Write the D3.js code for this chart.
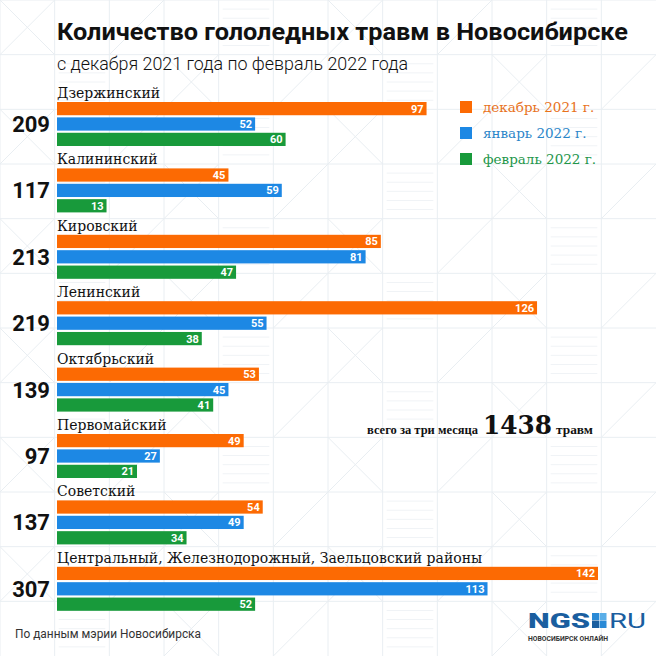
<!DOCTYPE html>
<html><head><meta charset="utf-8">
<script src="https://cdn.jsdelivr.net/npm/d3@7"></script>
<style>body{margin:0;background:#fff}svg{display:block}</style>
</head><body>
<script>
const districts = ["Дзержинский","Калининский","Кировский","Ленинский","Октябрьский","Первомайский","Советский","Центральный, Железнодорожный, Заельцовский районы"];
const months = ["декабрь 2021 г.","январь 2022 г.","февраль 2022 г."];
const december = [97,45,85,126,53,49,54,142];
const january = [52,59,81,55,45,27,49,113];
const february = [60,13,47,38,41,21,34,52];
const colors = ["#fc6a03","#1d88e4","#189a3b"];
const legendColors = ["#e8721c","#2b86c9","#23964a"];

const W=656,H=656;
const svg=d3.select("body").append("svg").attr("width",W).attr("height",H);

// background tile pattern
const bg=svg.append("g").attr("stroke","#e9eef2").attr("stroke-width",1).attr("fill","none");
const tile=W/12;
const tiles=d3.range(12);
tiles.forEach(i=>{
  bg.append("line").attr("x1",i*tile).attr("x2",i*tile).attr("y1",0).attr("y2",H);
  bg.append("line").attr("y1",i*tile).attr("y2",i*tile).attr("x1",0).attr("x2",W);
});
tiles.forEach(i=>tiles.forEach(j=>{
  const k=(i*7+j*3)%6, x=i*tile, y=j*tile;
  if(k===0){bg.append("line").attr("x1",x).attr("y1",y).attr("x2",x+tile).attr("y2",y+tile);
            bg.append("line").attr("x1",x+tile).attr("y1",y).attr("x2",x).attr("y2",y+tile);}
  else if(k===2){bg.append("line").attr("x1",x).attr("y1",y+tile).attr("x2",x+tile).attr("y2",y);}
  else if(k===4){d3.range(1,6).forEach(m=>bg.append("line").attr("x1",x+4).attr("x2",x+tile-4).attr("y1",y+m*tile/6).attr("y2",y+m*tile/6).attr("stroke","#f0f3f6"));}
}));

// title
svg.append("text").attr("x",57).attr("y",40).attr("font-family","Roboto").attr("font-weight",700)
  .attr("font-size",24.5).attr("fill","#111").attr("textLength",571).attr("lengthAdjust","spacingAndGlyphs")
  .text("Количество гололедных травм в Новосибирске");
svg.append("text").attr("x",57).attr("y",70).attr("font-family","Roboto").attr("font-weight",300)
  .attr("font-size",18.5).attr("fill","#111").attr("textLength",351).attr("lengthAdjust","spacingAndGlyphs")
  .text("с декабря 2021 года по февраль 2022 года");

const series=[december,january,february];
const y0=d3.scaleBand().domain(districts).range([102,102+8*66.4]).padding(0);
const y1=d3.scaleBand().domain(months).range([0,44]).paddingInner(0.14);
const x=d3.scaleLinear().domain([0,142]).range([57,598]);

const g=svg.append("g").selectAll("g").data(districts).join("g")
  .attr("transform",d=>`translate(0,${y0(d)})`);

g.append("text").attr("x",57).attr("y",-4).attr("font-family","DejaVu Serif").attr("font-size",14)
  .attr("fill","#111").text(d=>d);

g.append("text").attr("x",50).attr("y",y1(months[1])+y1.bandwidth()/2+8).attr("text-anchor","end")
  .attr("font-family","Roboto").attr("font-weight",700).attr("font-size",22).attr("fill","#111")
  .text((d,i)=>d3.sum(series,s=>s[i]));

months.forEach((m,mi)=>{
  g.append("rect").attr("x",x(0)).attr("y",y1(m)).attr("height",y1.bandwidth())
    .attr("width",(d,i)=>x(series[mi][i])-x(0)).attr("fill",colors[mi]);
  g.append("text").attr("x",(d,i)=>x(series[mi][i])-3).attr("y",y1(m)+y1.bandwidth()/2+4)
    .attr("text-anchor","end").attr("font-family","Roboto").attr("font-weight",700).attr("font-size",11)
    .attr("fill","#fff").text((d,i)=>series[mi][i]);
});

// legend
const lg=svg.append("g").attr("transform","translate(460,101)");
months.forEach((m,i)=>{
  lg.append("rect").attr("x",0).attr("y",i*26).attr("width",12).attr("height",12).attr("fill",colors[i]);
  lg.append("text").attr("x",23).attr("y",i*26+11).attr("font-family","DejaVu Serif").attr("font-size",13.5)
    .attr("fill",legendColors[i]).text(m);
});

// total
const total=d3.sum(series,s=>d3.sum(s));
function T(xp,yp,fam,size,len,txt){svg.append("text").attr("x",xp).attr("y",yp).attr("font-family",fam)
  .attr("font-weight",700).attr("fill","#111").attr("font-size",size).attr("textLength",len)
  .attr("lengthAdjust","spacingAndGlyphs").text(txt);}
T(367,434,"Liberation Serif",12,111,"всего за три месяца");
T(483,434,"DejaVu Serif",26,69,total);
T(556,434,"Liberation Serif",12,37,"травм");

// footer
svg.append("text").attr("x",15).attr("y",638).attr("font-family","Roboto").attr("font-size",12.5)
  .attr("fill","#333").attr("textLength",186).attr("lengthAdjust","spacingAndGlyphs").text("По данным мэрии Новосибирска");

// logo
const lo=svg.append("g").attr("transform","translate(528,628)");
lo.append("text").attr("x",0).attr("y",0).attr("font-family","Roboto").attr("font-weight",900).attr("font-size",21)
  .attr("fill","#1a5e9f").attr("textLength",62).attr("lengthAdjust","spacingAndGlyphs").text("NGS");
lo.append("rect").attr("x",64).attr("y",-15).attr("width",7).attr("height",7).attr("fill","#2a8ad6");
lo.append("rect").attr("x",71.5).attr("y",-15).attr("width",7).attr("height",7).attr("fill","#5aaee8");
lo.append("rect").attr("x",64).attr("y",-7.5).attr("width",7).attr("height",7.5).attr("fill","#1a5e9f");
lo.append("rect").attr("x",71.5).attr("y",-7.5).attr("width",7).attr("height",7.5).attr("fill","#2a8ad6");
lo.append("text").attr("x",81).attr("y",0).attr("font-family","Roboto").attr("font-weight",400).attr("font-size",21)
  .attr("fill","#1a5e9f").attr("textLength",37).attr("lengthAdjust","spacingAndGlyphs").text("RU");
lo.append("text").attr("x",0).attr("y",13).attr("font-family","Roboto").attr("font-weight",700).attr("font-size",6.5)
  .attr("fill","#333").attr("textLength",80).attr("lengthAdjust","spacingAndGlyphs").text("НОВОСИБИРСК ОНЛАЙН");
</script>
</body></html>
